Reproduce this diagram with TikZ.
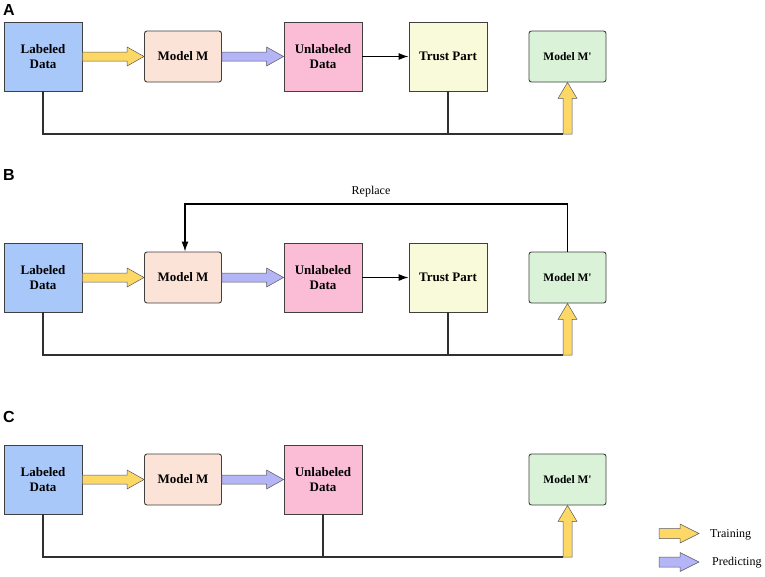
\documentclass[tikz,border=0pt]{standalone}
\usepackage{fontspec}
\setmainfont{Liberation Serif}
\newfontfamily\panelfont{Liberation Sans}
\newfontfamily\rawserif{Liberation Serif}
\usetikzlibrary{calc,arrows.meta}
\definecolor{cLab}{HTML}{A8C8FA}
\definecolor{cMM}{HTML}{FCE3D8}
\definecolor{cUnl}{HTML}{FBBDD6}
\definecolor{cTr}{HTML}{F9FAD9}
\definecolor{cMp}{HTML}{D9F2D8}
\definecolor{cYel}{HTML}{FDD866}
\definecolor{cBlu}{HTML}{B3B5F7}
\definecolor{cEdge}{HTML}{404040}
\definecolor{cLine}{HTML}{303030}
\newcommand{\sq}{{\rawserif\bfseries'}}
\tikzset{
  box/.style={draw=cEdge, line width=0.9pt, align=center, inner sep=0pt,
    font=\fontsize{13}{15}\selectfont\bfseries},
  bigbox/.style={box, minimum width=78pt, minimum height=69pt},
  smallbox/.style={box, minimum width=77pt, minimum height=51pt, rounded corners=2.5pt},
  mpbox/.style={smallbox, font=\fontsize{11.5}{13}\selectfont\bfseries},
  trainarrow/.style={fill=cYel, draw=gray!70!black, line width=0.5pt},
  predarrow/.style={fill=cBlu, draw=gray!70!black, line width=0.5pt},
  wire/.style={draw=cLine, line width=1.3pt},
  thinarrow/.style={draw=black, line width=1.1pt, -{Latex[length=10pt,width=7pt]}},
  panel/.style={font=\panelfont\fontsize{16}{16}\selectfont\bfseries, anchor=base west, inner sep=0pt},
  legend/.style={font=\fontsize{12}{14}\selectfont, anchor=west, inner sep=0pt}
}
% fat right arrow from node #1 to node #2
\newcommand{\fatR}[3]{%
  \draw[#3] ($(#1.east)+(0,-4.5)$) -- ($(#2.west)+(-17,-4.5)$) -- ($(#2.west)+(-17,-9.5)$)
    -- (#2.west) -- ($(#2.west)+(-17,9.5)$) -- ($(#2.west)+(-17,4.5)$)
    -- ($(#1.east)+(0,4.5)$) -- cycle;}
% fat up arrow from coordinate #1 to node #2 (south)
\newcommand{\fatU}[2]{%
  \draw[trainarrow] ($(#1)+(-4.5,0)$) -- ($(#2.south)+(-4.5,16)$) -- ($(#2.south)+(-9.5,16)$)
    -- (#2.south) -- ($(#2.south)+(9.5,16)$) -- ($(#2.south)+(4.5,16)$)
    -- ($(#1)+(4.5,0)$) -- cycle;}
\begin{document}
\begin{tikzpicture}[x=1pt,y=-1pt]
\useasboundingbox (0,0) rectangle (765,576);
\fill[white] (0,0) rectangle (765,576);

% ---------------- Panel A
\node[panel] (pa) at (3,15.5) {A};
\node[bigbox, fill=cLab] (la) at (43,56.5) {Labeled\\Data};
\node[smallbox, fill=cMM] (ma) at (183,56.5) {Model M};
\node[bigbox, fill=cUnl] (ua) at (323,56.5) {Unlabeled\\Data};
\node[bigbox, fill=cTr] (ta) at (448,56.5) {Trust Part};
\node[mpbox, fill=cMp] (pa2) at (567.5,56.5) {Model M\sq};
\fatR{la}{ma}{trainarrow}
\fatR{ma}{ua}{predarrow}
\draw[thinarrow] (ua.east) -- (ta.west);
\coordinate (ba) at (567.5,134);
\draw[wire] (la.south) |- ($(ba)+(-4.5,0)$);
\draw[wire] (ta.south) -- (ta.south |- ba);
\fatU{ba}{pa2}

% ---------------- Panel B
\node[panel] (pb) at (3,180) {B};
\node[bigbox, fill=cLab] (lb) at (43,277.5) {Labeled\\Data};
\node[smallbox, fill=cMM] (mb) at (183,277.5) {Model M};
\node[bigbox, fill=cUnl] (ub) at (323,277.5) {Unlabeled\\Data};
\node[bigbox, fill=cTr] (tb) at (448,277.5) {Trust Part};
\node[mpbox, fill=cMp] (pb2) at (567.5,277.5) {Model M\sq};
\fatR{lb}{mb}{trainarrow}
\fatR{mb}{ub}{predarrow}
\draw[thinarrow] (ub.east) -- (tb.west);
\coordinate (bb) at (567.5,355);
\draw[wire] (lb.south) |- ($(bb)+(-4.5,0)$);
\draw[wire] (tb.south) -- (tb.south |- bb);
\fatU{bb}{pb2}
\coordinate (rb) at (567.5,204);
\draw[thinarrow, line width=1.2pt] (pb2.north) -- (rb) -| ($(mb.north)+(2,0)$);
\node[font=\fontsize{12}{13}\selectfont, inner sep=0pt] (rep) at (371,192) {Replace};

% ---------------- Panel C
\node[panel] (pc) at (3,422) {C};
\node[bigbox, fill=cLab] (lc) at (43,479.5) {Labeled\\Data};
\node[smallbox, fill=cMM] (mc) at (183,479.5) {Model M};
\node[bigbox, fill=cUnl] (uc) at (323,479.5) {Unlabeled\\Data};
\node[mpbox, fill=cMp] (pc2) at (567.5,479.5) {Model M\sq};
\fatR{lc}{mc}{trainarrow}
\fatR{mc}{uc}{predarrow}
\coordinate (bc) at (567.5,557);
\draw[wire] (lc.south) |- ($(bc)+(-4.5,0)$);
\draw[wire] (uc.south) -- (uc.south |- bc);
\fatU{bc}{pc2}

% ---------------- Legend
\coordinate (t1) at (659,533.5);
\coordinate (t2) at (699,533.5);
\draw[trainarrow] ($(t1)+(0,-5)$) -- ($(t2)+(-19,-5)$) -- ($(t2)+(-19,-9.5)$) -- (t2)
  -- ($(t2)+(-19,9.5)$) -- ($(t2)+(-19,5)$) -- ($(t1)+(0,5)$) -- cycle;
\node[legend] (lt) at (710,535) {Training};
\coordinate (p1) at (659,562);
\coordinate (p2) at (699,562);
\draw[predarrow] ($(p1)+(0,-5)$) -- ($(p2)+(-19,-5)$) -- ($(p2)+(-19,-9.5)$) -- (p2)
  -- ($(p2)+(-19,9.5)$) -- ($(p2)+(-19,5)$) -- ($(p1)+(0,5)$) -- cycle;
\node[legend] (lp) at (712,563) {Predicting};
\end{tikzpicture}
\end{document}
